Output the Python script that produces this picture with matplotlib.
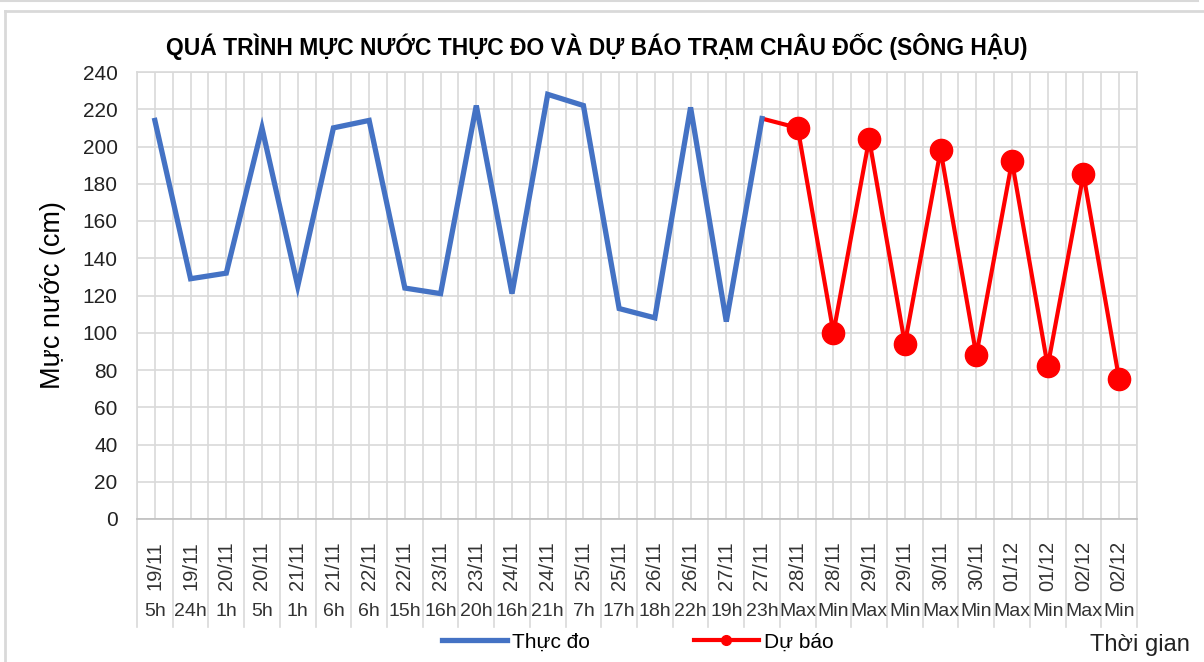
import matplotlib
matplotlib.use("Agg")
import matplotlib.pyplot as plt
from matplotlib.lines import Line2D
import numpy as np

plt.rcParams['font.family'] = ['Liberation Sans Narrow', 'Liberation Sans', 'DejaVu Sans']

# category labels (two levels)
dates = ['19/11', '19/11', '20/11', '20/11', '21/11', '21/11', '22/11', '22/11',
         '23/11', '23/11', '24/11', '24/11', '25/11', '25/11', '26/11', '26/11',
         '27/11', '27/11', '28/11', '28/11', '29/11', '29/11', '30/11', '30/11',
         '01/12', '01/12', '02/12', '02/12']
hours = ['5h', '24h', '1h', '5h', '1h', '6h', '6h', '15h', '16h', '20h', '16h', '21h',
         '7h', '17h', '18h', '22h', '19h', '23h', 'Max', 'Min', 'Max', 'Min', 'Max',
         'Min', 'Max', 'Min', 'Max', 'Min']

# measured water level (cm)
thuc_do = [214, 129, 132, 210, 125, 210, 214, 124, 121, 222, 121, 228, 222, 113, 108,
           221, 106, 215]
# forecast, starting from the last measured point (27/11 23h)
du_bao = [215, 210, 100, 204, 94, 198, 88, 192, 82, 185, 75]

W, H = 1204, 662
fig = plt.figure(figsize=(W / 100, H / 100), dpi=100)

# plot area in pixels
left, right, top, bottom = 137, 1137, 72, 519
ax = fig.add_axes([left / W, 1 - bottom / H, (right - left) / W, (bottom - top) / H])

n = len(dates)
x_obs = np.arange(len(thuc_do))
x_fc = np.arange(len(thuc_do) - 1, len(thuc_do) - 1 + len(du_bao))

ax.plot(x_fc, du_bao, color='#FF0000', lw=3.0, marker='o', markersize=16,
        markevery=slice(1, None), label='Dự báo', zorder=3, solid_capstyle='butt')
ax.plot(x_obs, thuc_do, color='#4472C4', lw=3.8, label='Thực đo', zorder=4,
        solid_joinstyle='miter')

ax.set_xlim(-0.5, n - 0.5)
ax.set_ylim(0, 240)
ax.set_yticks(np.arange(0, 241, 20))
ax.set_xticks(np.arange(-0.5, n, 0.5))
ax.set_xticklabels([])
ax.tick_params(axis='x', length=0)
ax.tick_params(axis='y', length=0, labelsize=15, pad=14, colors='#222222')
ax.grid(True, color='#d9d9d9', lw=1.2)
ax.set_axisbelow(True)
for s in ax.spines.values():
    s.set_color('#d9d9d9')
    s.set_linewidth(1.2)
ax.spines['bottom'].set_color('#bfbfbf')

# two-level category axis
tr = ax.get_xaxis_transform()
sep_y = -(627 - bottom) / (bottom - top)
for b in np.arange(-0.5, n, 1.0):
    ax.plot([b, b], [0, sep_y], transform=tr, color='#d9d9d9', lw=1.2, clip_on=False)
for i in range(n):
    ax.text(i, -(566 - bottom) / (bottom - top), dates[i], transform=tr, rotation=90,
            ha='center', va='center', fontsize=14.5, color='#333333')
    ax.text(i, -(612 - bottom) / (bottom - top), hours[i], transform=tr,
            ha='center', va='center', fontsize=14, color='#333333')

ax.set_ylabel('Mực nước (cm)', fontsize=19.5, labelpad=12)
fig.text(597 / W, 1 - 46 / H, 'QUÁ TRÌNH MỰC NƯỚC THỰC ĐO VÀ DỰ BÁO TRẠM CHÂU ĐỐC (SÔNG HẬU)',
         ha='center', va='center', fontsize=16.5, fontweight='bold')
fig.text(1140 / W, 1 - 645 / H, 'Thời gian', ha='center', va='center', fontsize=17,
         color='#222222')

h_obs = Line2D([], [], color='#4472C4', lw=3.8)
h_fc = Line2D([], [], color='#FF0000', lw=3.0, marker='o', markersize=7)
fig.legend([h_obs, h_fc], ['Thực đo', 'Dự báo'], loc='center', ncol=2,
           bbox_to_anchor=(638 / W, 1 - 642 / H), frameon=False, fontsize=15,
           handlelength=3.1, handletextpad=0.25, columnspacing=5.0)

# chart frame
fig.add_artist(Line2D([5 / W, 5 / W], [0, 1 - 11 / H], color='#d9d9d9', lw=2))
fig.add_artist(Line2D([5 / W, 1], [1 - 11 / H, 1 - 11 / H], color='#d9d9d9', lw=2))
fig.add_artist(Line2D([0, 1198 / W], [1 - 1 / H, 1 - 1 / H], color='#d9d9d9', lw=1.5))

fig.savefig('out.png', dpi=100)
